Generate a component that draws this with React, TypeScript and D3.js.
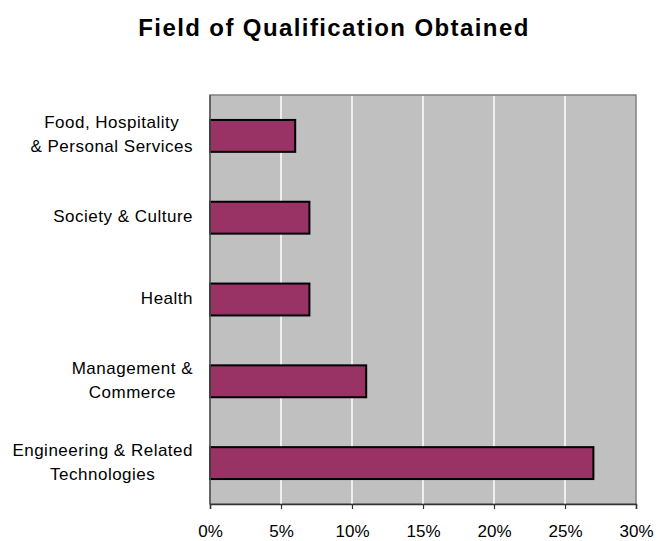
import React, { useEffect, useRef } from "react";
import * as d3 from "d3";

const categories: string[][] = [
  ["Food, Hospitality", "& Personal Services"],
  ["Society & Culture"],
  ["Health"],
  ["Management &", "Commerce"],
  ["Engineering & Related", "Technologies"],
];
const values: number[] = [6, 7, 7, 11, 27];
const tickValues: number[] = [0, 5, 10, 15, 20, 25, 30];
const title = "Field of Qualification Obtained";

const W = 671;
const H = 541;
const M = { left: 210, right: 636, top: 95, bottom: 504 };

export default function App() {
  const ref = useRef<SVGSVGElement | null>(null);

  useEffect(() => {
    const svg = d3.select(ref.current);
    svg.selectAll("*").remove();

    const x = d3.scaleLinear().domain([0, 30]).range([M.left, M.right]);
    const y = d3
      .scaleBand<number>()
      .domain(d3.range(categories.length))
      .range([M.top, M.bottom]);
    const barH = y.bandwidth() * 0.39;

    // title
    svg
      .append("text")
      .attr("x", 334)
      .attr("y", 36)
      .attr("text-anchor", "middle")
      .attr("font-family", "Arial, 'Liberation Sans', sans-serif")
      .attr("font-weight", "bold")
      .attr("font-size", 24)
      .attr("letter-spacing", 1.4)
      .attr("fill", "#000")
      .text(title);

    // plot background
    svg
      .append("rect")
      .attr("x", M.left)
      .attr("y", M.top)
      .attr("width", M.right - M.left)
      .attr("height", M.bottom - M.top)
      .attr("fill", "#c0c0c0")
      .attr("stroke", "#808080")
      .attr("stroke-width", 1.5);

    // gridlines
    svg
      .append("g")
      .selectAll("line")
      .data(tickValues.filter((t) => t > 0 && t < 30))
      .join("line")
      .attr("x1", (d) => x(d))
      .attr("x2", (d) => x(d))
      .attr("y1", M.top + 1)
      .attr("y2", M.bottom)
      .attr("stroke", "#ffffff")
      .attr("stroke-width", 1.5);

    // bars
    svg
      .append("g")
      .selectAll("rect")
      .data(values)
      .join("rect")
      .attr("x", x(0))
      .attr("y", (_, i) => (y(i) as number) + (y.bandwidth() - barH) / 2)
      .attr("width", (d) => x(d) - x(0))
      .attr("height", barH)
      .attr("fill", "#993366")
      .attr("stroke", "#000")
      .attr("stroke-width", 2);

    // left axis line
    svg
      .append("line")
      .attr("x1", M.left)
      .attr("x2", M.left)
      .attr("y1", M.top)
      .attr("y2", M.bottom)
      .attr("stroke", "#555")
      .attr("stroke-width", 1.5);

    // bottom axis
    const axis = svg
      .append("g")
      .attr("transform", `translate(0,${M.bottom})`)
      .call(
        d3
          .axisBottom(x)
          .tickValues(tickValues)
          .tickSize(5)
          .tickFormat((d) => `${d}%`)
      );
    axis.select(".domain").attr("stroke", "#333").attr("stroke-width", 1.5);
    axis.selectAll(".tick line").attr("stroke", "#333").attr("stroke-width", 1.2);
    axis
      .selectAll(".tick text")
      .attr("font-family", "Arial, 'Liberation Sans', sans-serif")
      .attr("font-size", 17)
      .attr("fill", "#000")
      .attr("y", 21);

    // category labels
    const labelRight = 193;
    const lineH = 24;
    categories.forEach((lines, i) => {
      const cy = (y(i) as number) + y.bandwidth() / 2;
      const g = svg.append("g");
      const texts = lines.map((ln, j) =>
        g
          .append("text")
          .attr("font-family", "Arial, 'Liberation Sans', sans-serif")
          .attr("font-size", 17)
          .attr("letter-spacing", 0.5)
          .attr("fill", "#000")
          .attr("text-anchor", "middle")
          .attr("y", cy + (j - (lines.length - 1) / 2) * lineH + 4.5)
          .text(ln)
      );
      const widths = texts.map((t) => (t.node() as SVGTextElement).getComputedTextLength());
      const maxW = Math.max(...widths);
      const cx = labelRight - maxW / 2;
      texts.forEach((t) => t.attr("x", cx));
    });
  }, []);

  return (
    <svg ref={ref} width={W} height={H} style={{ display: "block", position: "absolute", left: 0, top: 0 }} />
  );
}
